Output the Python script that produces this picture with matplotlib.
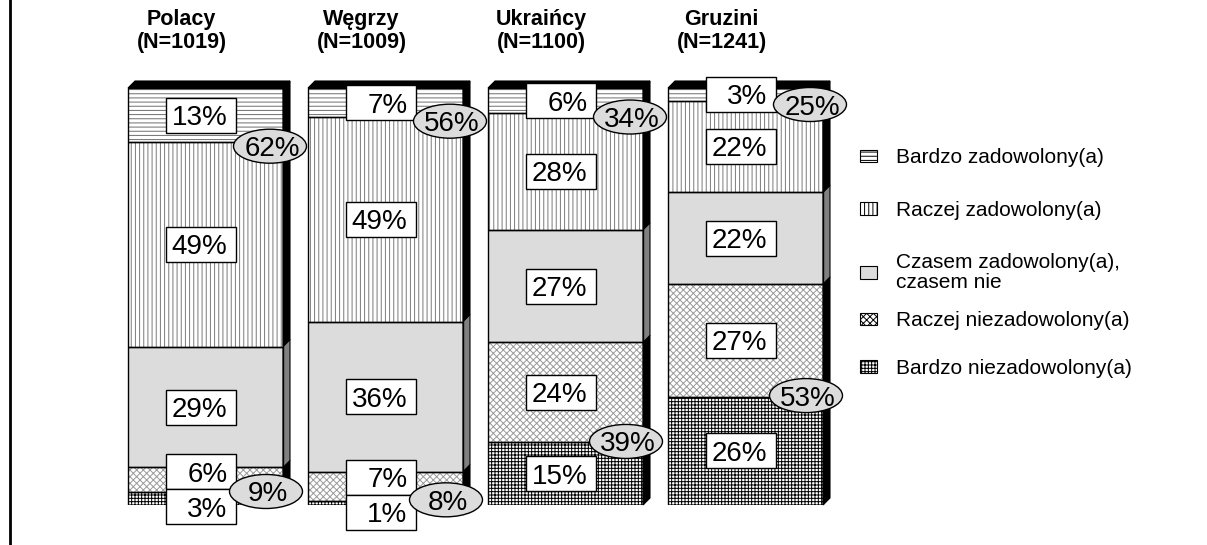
import matplotlib
matplotlib.use('Agg')
import matplotlib.pyplot as plt
from matplotlib.patches import Rectangle, Polygon, Ellipse, Patch
from matplotlib.lines import Line2D
from matplotlib.transforms import Affine2D, ScaledTranslation
import numpy as np

plt.rcParams['font.family'] = ['Liberation Sans', 'DejaVu Sans']
plt.rcParams['hatch.linewidth'] = 0.7

# ---------------- data ----------------
groups = ['Polacy', 'Węgrzy', 'Ukraińcy', 'Gruzini']
sample_sizes = [1019, 1009, 1100, 1241]
categories = ['Bardzo zadowolony(a)', 'Raczej zadowolony(a)',
              'Czasem zadowolony(a),\nczasem nie', 'Raczej niezadowolony(a)',
              'Bardzo niezadowolony(a)']
bardzo_zadowolony = [13, 7, 6, 3]
raczej_zadowolony = [49, 49, 28, 22]
czasem = [29, 36, 27, 22]
raczej_niezadowolony = [6, 7, 24, 27]
bardzo_niezadowolony = [3, 1, 15, 26]
satisfied_total = [62, 56, 34, 25]
dissatisfied_total = [9, 8, 39, 53]

# ---------------- styles ----------------
# (face, hatch, hatch colour, side colour) in category order (top -> bottom)
styles = [
    ('white', '----', '#6e6e6e', 'black'),
    ('white', '||||', '#7a7a7a', 'black'),
    ('#dcdcdc', None, '#dcdcdc', '#808080'),
    ('white', 'xxxxx', '#9a9a9a', 'black'),
    ('white', '+++++', 'black', 'black'),
]
series = [bardzo_zadowolony, raczej_zadowolony, czasem,
          raczej_niezadowolony, bardzo_niezadowolony]

W, H = 1207, 545
fig = plt.figure(figsize=(W / 100, H / 100), dpi=100)
ax_left, ax_w = 115.5, 720
ax_bot, ax_h = 40, 417
ax = fig.add_axes([ax_left / W, ax_bot / H, ax_w / W, ax_h / H])
ax.set_xlim(-0.5, 3.5)
ax.set_ylim(0, 100)
ax.axis('off')

x = np.arange(len(groups))
bw = 0.861
px_x = ax_w / 4.0
px_y = ax_h / 100.0
depth_px = 7
dx = depth_px / px_x
dy = depth_px / px_y

# stack bottom -> top
order = list(range(len(series)))[::-1]
bottom = np.zeros(len(groups))
seg_info = {}
for k in order:
    vals = np.array(series[k], dtype=float)
    face, hatch, hcol, side = styles[k]
    ax.bar(x, vals, bw, bottom=bottom, color=face, hatch=hatch,
           edgecolor=hcol, linewidth=0, zorder=2)
    ax.bar(x, vals, bw, bottom=bottom, fill=False, edgecolor='black',
           linewidth=1.0, zorder=3)
    for i in range(len(groups)):
        r = x[i] + bw / 2
        b0, b1 = bottom[i], bottom[i] + vals[i]
        ax.add_patch(Polygon([(r, b0), (r + dx, b0 + dy), (r + dx, b1 + dy), (r, b1)],
                             closed=True, facecolor=side, edgecolor='black',
                             linewidth=0.8, zorder=2, clip_on=False))
    seg_info[k] = (bottom.copy(), vals.copy())
    bottom = bottom + vals

# top face
for i in range(len(groups)):
    l, r = x[i] - bw / 2, x[i] + bw / 2
    top = bottom[i]
    ax.add_patch(Polygon([(l, top), (r, top), (r + dx, top + dy), (l + dx, top + dy)],
                         closed=True, facecolor='black', edgecolor='black',
                         linewidth=0.8, zorder=4, clip_on=False))

# ---------------- value labels ----------------
box_w, box_h = 70, 35
box_h_units = box_h / px_y
label_dx = -5
val_fs = 20


def value_box(xc, yc, text):
    tr = (Affine2D().scale(box_w, box_h)
          .translate(-box_w / 2 + label_dx, -box_h / 2)
          + ScaledTranslation(xc, yc, ax.transData))
    ax.add_patch(Rectangle((0, 0), 1, 1, transform=tr, facecolor='white',
                           edgecolor='black', linewidth=1.0, zorder=6, clip_on=False))
    ax.annotate(text, (xc, yc), xytext=((box_w / 2 + label_dx - 8) * 0.72, 0),
                textcoords='offset points', ha='right', va='center_baseline',
                fontsize=val_fs, zorder=7, annotation_clip=False)


for i in range(len(groups)):
    centers = []
    for k in range(len(series)):
        b, v = seg_info[k]
        centers.append(b[i] + v[i] / 2)
    # bottom two labels: spread if overlapping
    c3, c4 = centers[3], centers[4]
    if c3 - c4 < box_h_units:
        m = (c3 + c4) / 2
        centers[3] = m + box_h_units / 2
        centers[4] = m - box_h_units / 2
    for k in range(len(series)):
        value_box(x[i], centers[k], f'{series[k][i]}%')

# ---------------- ellipses ----------------
ell_w, ell_h = 73, 34


def ellipse_label(xc, yc, text, offx, offy):
    tr = (Affine2D().scale(ell_w, ell_h).translate(offx, offy)
          + ScaledTranslation(xc, yc, ax.transData))
    ax.add_patch(Ellipse((0, 0), 1, 1, transform=tr, facecolor='#dcdcdc',
                         edgecolor='black', linewidth=1.0, zorder=8, clip_on=False))
    ax.annotate(text, (xc, yc), xytext=((offx + 2) * 0.72, offy * 0.72),
                textcoords='offset points', ha='center', va='center_baseline',
                fontsize=val_fs, zorder=9, annotation_clip=False)


for i in range(len(groups)):
    r = x[i] + bw / 2
    b_top, _ = seg_info[0]
    ellipse_label(r, b_top[i], f'{satisfied_total[i]}%', -13, -4)
    b_bot, v_bot = seg_info[4]
    ellipse_label(r, b_bot[i] + v_bot[i], f'{dissatisfied_total[i]}%', -17, 1)

# ---------------- titles ----------------
for i in range(len(groups)):
    ax.annotate(f'{groups[i]}\n(N={sample_sizes[i]})', (x[i], 100),
                xytext=(-24 * 0.72, 57 * 0.72), textcoords='offset points',
                ha='center', va='center', fontsize=15.5, fontweight='bold',
                linespacing=1.1, annotation_clip=False)

# ---------------- legend ----------------
handles = [Patch(facecolor=s[0], hatch=s[1], edgecolor='black', linewidth=0.8)
           for s in styles]
leg_kw = dict(loc='upper left', frameon=False, fontsize=15,
              handlelength=0.8, handleheight=0.55, handletextpad=0.9, borderpad=0)
leg1 = fig.legend(handles[:3], categories[:3],
                  bbox_to_anchor=(850 / W, 1 - 138 / H), labelspacing=1.6, **leg_kw)
leg1.get_texts()[2].set_linespacing(1.05)
leg2 = fig.legend(handles[3:], categories[3:],
                  bbox_to_anchor=(850 / W, 1 - 301 / H), labelspacing=1.36, **leg_kw)

# left frame line
fig.add_artist(Line2D([10 / W, 10 / W], [0, 1], color='black', linewidth=2))

fig.savefig('out.png', dpi=100, facecolor='white')
